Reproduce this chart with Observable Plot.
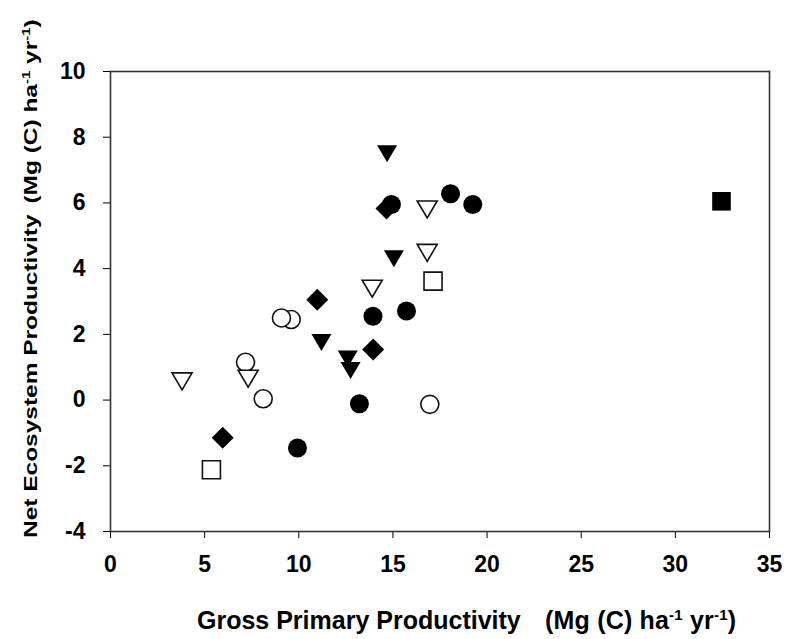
<!DOCTYPE html>
<html>
<head>
<meta charset="utf-8">
<script src="https://cdn.jsdelivr.net/npm/d3@7"></script>
<script src="https://cdn.jsdelivr.net/npm/@observablehq/plot@0.6"></script>
<style>
  html, body { margin: 0; padding: 0; background: #fff; }
  #chart svg { display: block; }
</style>
</head>
<body>
<div id="chart"></div>
<script>
// Gross primary productivity (x) vs net ecosystem productivity (y), Mg (C) ha-1 yr-1
const gppFilledCircle = [14.92, 18.06, 19.24, 13.94, 15.72, 13.22, 9.93];
const nepFilledCircle = [5.95, 6.28, 5.95, 2.55, 2.71, -0.11, -1.46];

const gppFilledDiamond = [5.96, 10.98, 13.95, 14.66];
const nepFilledDiamond = [-1.15, 3.05, 1.54, 5.83];

const gppFilledTriangle = [14.69, 15.05, 11.2, 12.6, 12.75];
const nepFilledTriangle = [7.5, 4.3, 1.75, 1.25, 0.9];

const gppOpenCircle = [9.6, 9.08, 7.17, 8.11, 16.96];
const nepOpenCircle = [2.45, 2.5, 1.15, 0.04, -0.13];

const gppOpenTriangle = [3.8, 7.31, 13.9, 16.82, 16.82];
const nepOpenTriangle = [0.57, 0.65, 3.39, 5.8, 4.48];

const gppOpenSquare = [5.36, 17.13];
const nepOpenSquare = [-2.12, 3.62];

const gppFilledSquare = [32.45];
const nepFilledSquare = [6.05];

const xTicks = [0, 5, 10, 15, 20, 25, 30, 35];
const yTicks = [-4, -2, 0, 2, 4, 6, 8, 10];

// Custom marker shapes; Plot passes size = r*r*PI
const radius = (size) => Math.sqrt(size / Math.PI);
const downTriangle = {
  draw(ctx, size) {
    const r = radius(size), h = r * 0.85;
    ctx.moveTo(-r, -h); ctx.lineTo(r, -h); ctx.lineTo(0, h); ctx.closePath();
  }
};
const diamond = {
  draw(ctx, size) {
    const r = radius(size);
    ctx.moveTo(0, -r); ctx.lineTo(r, 0); ctx.lineTo(0, r); ctx.lineTo(-r, 0); ctx.closePath();
  }
};
const square = {
  draw(ctx, size) {
    const r = radius(size);
    ctx.moveTo(-r, -r); ctx.lineTo(r, -r); ctx.lineTo(r, r); ctx.lineTo(-r, r); ctx.closePath();
  }
};

const toRows = (xs, ys) => xs.map((x, i) => ({gpp: x, nep: ys[i]}));

function filledSeries(xs, ys, symbol, r) {
  return Plot.dot(toRows(xs, ys), {x: "gpp", y: "nep", symbol, r, fill: "#000", stroke: "none"});
}
function openSeries(xs, ys, symbol, r) {
  return Plot.dot(toRows(xs, ys), {x: "gpp", y: "nep", symbol, r, fill: "#fff", stroke: "#111", strokeWidth: 1.6});
}

const font = "'Liberation Sans', Arial, Helvetica, sans-serif";
const plainNumber = (d) => String(d);

const chart = Plot.plot({
  width: 788,
  height: 639,
  marginLeft: 110,
  marginRight: 19,
  marginTop: 71,
  marginBottom: 108,
  style: {fontFamily: font, fontWeight: "bold", fontSize: "23px", color: "#000", background: "#fff"},
  x: {domain: [0, 35], ticks: xTicks, tickFormat: plainNumber, tickSize: 7, tickPadding: 17, label: null},
  y: {domain: [-4, 10], ticks: yTicks, tickFormat: plainNumber, tickSize: 7, tickPadding: 18, label: null},
  marks: [
    openSeries(gppOpenCircle, nepOpenCircle, "circle", 9),
    openSeries(gppOpenTriangle, nepOpenTriangle, downTriangle, 10),
    openSeries(gppOpenSquare, nepOpenSquare, square, 9),
    filledSeries(gppFilledCircle, nepFilledCircle, "circle", 9.5),
    filledSeries(gppFilledDiamond, nepFilledDiamond, diamond, 11),
    filledSeries(gppFilledTriangle, nepFilledTriangle, downTriangle, 10),
    filledSeries(gppFilledSquare, nepFilledSquare, square, 9.3),
    Plot.frame({stroke: "#333", strokeWidth: 1.6})
  ]
});

document.getElementById("chart").append(chart);

// Axis titles with superscript exponents
const svg = d3.select(chart);

function addUnits(text, sup) {
  text.append("tspan").attr("dx", sup.gap).text("(Mg (C) ha");
  text.append("tspan").attr("dy", -sup.rise).attr("font-size", sup.size).text("-1");
  text.append("tspan").attr("dy", sup.rise).text(" yr");
  text.append("tspan").attr("dy", -sup.rise).attr("font-size", sup.size).text("-1");
  text.append("tspan").attr("dy", sup.rise).text(")");
}

// x title: name and units as two runs
svg.append("text")
  .attr("x", 197).attr("y", 629)
  .attr("text-anchor", "start")
  .attr("font-family", font).attr("font-weight", "bold").attr("font-size", 25)
  .attr("fill", "#000")
  .text("Gross Primary Productivity");
const xUnits = svg.append("text")
  .attr("x", 545).attr("y", 629)
  .attr("text-anchor", "start")
  .attr("textLength", 191).attr("lengthAdjust", "spacing")
  .attr("font-family", font).attr("font-weight", "bold").attr("font-size", 25)
  .attr("fill", "#000");
addUnits(xUnits, {gap: 0, rise: 9, size: 15});

// y title, rotated and drawn tall
const yTitle = svg.append("text")
  .attr("transform", "translate(37,538) rotate(-90) scale(1.36,1)")
  .attr("text-anchor", "start")
  .attr("font-family", font).attr("font-weight", "bold").attr("font-size", 18)
  .attr("fill", "#000");
yTitle.append("tspan").text("Net Ecosystem Productivity");
addUnits(yTitle, {gap: 8, rise: 7, size: 11});
</script>
</body>
</html>
